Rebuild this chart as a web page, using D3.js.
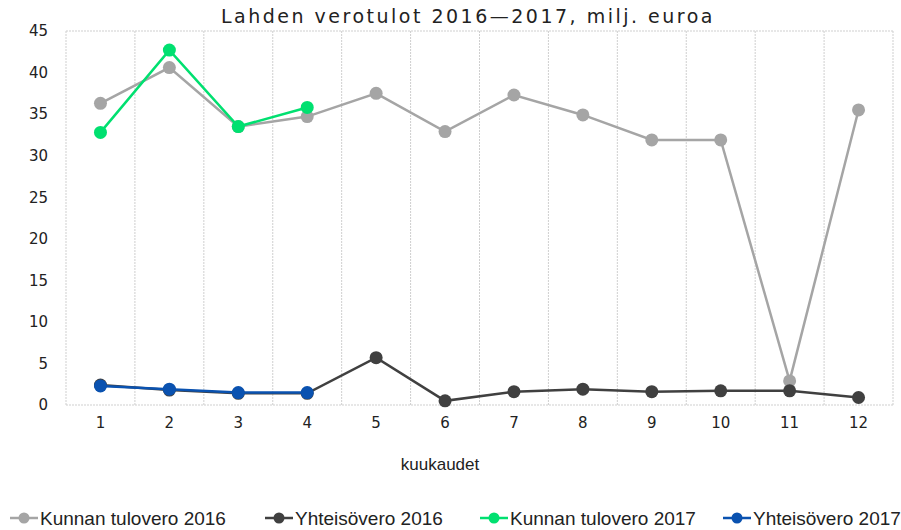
<html><head>
  <script src="https://d3js.org/d3.v7.min.js"></script>
  <style>
    body { margin: 0; background: #fff; }
    text { font-family: "DejaVu Sans", sans-serif; fill: #222; }
    .grid line { stroke: #cfcfcf; stroke-width: 1; stroke-dasharray: 2,1; }
    .legend text { font-family: "Liberation Sans Narrow", "Liberation Sans", sans-serif; }
  </style>
</head>
<body>
<script>
var months = ["1","2","3","4","5","6","7","8","9","10","11","12"];
var yTicks = [0, 5, 10, 15, 20, 25, 30, 35, 40, 45];

var kunta2016 = [36.3, 40.6, 33.5, 34.7, 37.5, 32.9, 37.3, 34.9, 31.9, 31.9, 2.9, 35.5];
var yhteis2016 = [2.4, 1.8, 1.4, 1.4, 5.7, 0.5, 1.6, 1.9, 1.6, 1.7, 1.7, 0.9];
var kunta2017 = [32.8, 42.7, 33.5, 35.8];
var yhteis2017 = [2.3, 1.9, 1.5, 1.5];

var seriesNames = ["Kunnan tulovero 2016", "Yhteisövero 2016", "Kunnan tulovero 2017", "Yhteisövero 2017"];
var colors = ["#a5a5a5", "#404040", "#00e070", "#0a52b0"];
var seriesData = [kunta2016, yhteis2016, kunta2017, yhteis2017];

var W = 901, H = 530;
var margin = {top: 31, right: 8, bottom: 125, left: 66};
var width = W - margin.left - margin.right,
    height = H - margin.top - margin.bottom;

var svg = d3.select("body").append("svg")
  .attr("width", W).attr("height", H);

svg.append("text")
  .attr("x", 468).attr("y", 23)
  .attr("text-anchor", "middle")
  .style("font-size", "19px")
  .style("letter-spacing", "2.5px")
  .text("Lahden verotulot 2016\u20142017, milj. euroa");

var g = svg.append("g").attr("transform", "translate(" + margin.left + "," + margin.top + ")");

var x = d3.scaleBand().domain(months).range([0, width]);
var y = d3.scaleLinear().domain([0, 45]).range([height, 0]);

// vertical gridlines on category boundaries
var grid = g.append("g").attr("class", "grid");
grid.selectAll("line.v")
  .data(months.concat(["end"]))
  .enter().append("line")
  .attr("x1", function(d, i) { return i < months.length ? x(d) : width; })
  .attr("x2", function(d, i) { return i < months.length ? x(d) : width; })
  .attr("y1", 0).attr("y2", height);
grid.append("line").attr("x1", 0).attr("x2", width).attr("y1", y(45)).attr("y2", y(45));
grid.append("line").attr("x1", 0).attr("x2", width).attr("y1", y(0)).attr("y2", y(0));

var yAxis = g.append("g")
  .call(d3.axisLeft(y).tickValues(yTicks).tickSize(0).tickPadding(18));
yAxis.select(".domain").remove();
yAxis.selectAll("text").style("font-size", "15px");

var xAxis = g.append("g")
  .attr("transform", "translate(0," + height + ")")
  .call(d3.axisBottom(x).tickSize(0).tickPadding(12));
xAxis.select(".domain").remove();
xAxis.selectAll("text").style("font-size", "15px");

svg.append("text")
  .attr("x", 440).attr("y", 470)
  .attr("text-anchor", "middle")
  .style("font-family", "'Liberation Sans Narrow', 'Liberation Sans', sans-serif")
  .style("font-size", "17px")
  .text("kuukaudet");

var line = d3.line()
  .x(function(d, i) { return x(months[i]) + x.bandwidth() / 2; })
  .y(function(d) { return y(d); });

seriesData.forEach(function(data, s) {
  g.append("path")
    .datum(data)
    .attr("fill", "none")
    .attr("stroke", colors[s])
    .attr("stroke-width", 2.5)
    .attr("d", line);
  g.selectAll("circle.s" + s)
    .data(data)
    .enter().append("circle")
    .attr("cx", function(d, i) { return x(months[i]) + x.bandwidth() / 2; })
    .attr("cy", function(d) { return y(d); })
    .attr("r", 6.5)
    .attr("fill", colors[s]);
});

// legend
var legendX = [10, 265, 480, 723];
var legend = svg.append("g").attr("class", "legend");
seriesNames.forEach(function(name, i) {
  var lg = legend.append("g").attr("transform", "translate(" + legendX[i] + ",518)");
  lg.append("line").attr("x1", 0).attr("x2", 28).attr("y1", 0).attr("y2", 0)
    .attr("stroke", colors[i]).attr("stroke-width", 2.5);
  lg.append("circle").attr("cx", 14).attr("cy", 0).attr("r", 5.5).attr("fill", colors[i]);
  lg.append("text").attr("x", 30).attr("y", 7)
    .style("font-size", "19px")
    .text(name);
});
</script>
</body></html>
